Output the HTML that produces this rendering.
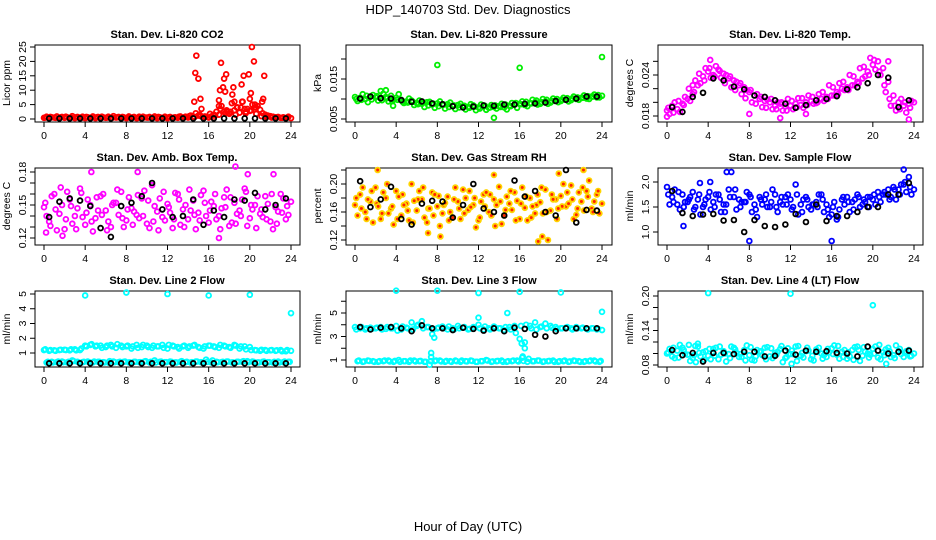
<!DOCTYPE html>
<html><head><meta charset="utf-8"><style>
html,body{margin:0;padding:0;background:#fff;}
svg{display:block;font-family:"Liberation Sans",Arial,sans-serif;}
.t{font-size:11px;font-weight:bold;text-anchor:middle;}
.yl{font-size:10.5px;text-anchor:middle;}
.tk{font-size:10.5px;text-anchor:middle;}
</style></head><body>
<svg id="chart" width="936" height="540" viewBox="0 0 936 540">
<rect width="936" height="540" fill="#fff"/>
<text x="468" y="14" font-size="13" text-anchor="middle">HDP_140703  Std. Dev. Diagnostics</text>
<text x="468" y="531" font-size="13" text-anchor="middle">Hour of Day (UTC)</text>
<text class="t" x="167" y="38">Stan. Dev. Li-820 CO2</text>
<text class="t" x="479" y="38">Stan. Dev. Li-820 Pressure</text>
<text class="t" x="790" y="38">Stan. Dev. Li-820 Temp.</text>
<text class="t" x="167" y="161">Stan. Dev. Amb. Box Temp.</text>
<text class="t" x="479" y="161">Stan. Dev. Gas Stream RH</text>
<text class="t" x="790" y="161">Stan. Dev. Sample Flow</text>
<text class="t" x="167" y="284">Stan. Dev. Line 2 Flow</text>
<text class="t" x="479" y="284">Stan. Dev. Line 3 Flow</text>
<text class="t" x="790" y="284">Stan. Dev. Line 4 (LT) Flow</text>
<text class="yl" transform="translate(10,83) rotate(-90)">Licor ppm</text>
<text class="yl" transform="translate(321,83) rotate(-90)">kPa</text>
<text class="yl" transform="translate(633,83) rotate(-90)">degrees C</text>
<text class="yl" transform="translate(10,206) rotate(-90)">degrees C</text>
<text class="yl" transform="translate(321,206) rotate(-90)">percent</text>
<text class="yl" transform="translate(633,206) rotate(-90)">ml/min</text>
<text class="yl" transform="translate(10,329) rotate(-90)">ml/min</text>
<text class="yl" transform="translate(321,329) rotate(-90)">ml/min</text>
<text class="yl" transform="translate(633,329) rotate(-90)">ml/min</text>
</svg>
<script>
const xTicks=[0,4,8,12,16,20,24];
// Panel 1 CO2
const p1A=[0.4,0.3,0.5,0.3,0.4,0.3,0.3,0.5,0.3,0.4,0.3,0.3,0.4,0.3,0.5,0.3,0.3,0.4,0.3,0.3,0.5,0.3,0.3,0.4,0.3,0.3,0.4,0.3,0.5,0.8,1.2,0.6,0.5,0.4,1.5,2.5,1.8,3.0,2.2,3.5,2.8,4.0,3.2,1.5,1.0,0.6,0.4,0.3,0.3];
const p1B=[0.8,0.6,0.9,0.7,0.6,1.0,0.7,0.8,0.6,0.9,0.7,0.6,0.8,1.0,0.7,0.6,0.9,0.7,0.8,0.6,0.7,0.9,0.6,0.8,0.7,0.6,0.9,0.8,1.2,2.0,1.0,0.8,0.9,2.5,4.5,3.0,5.5,4.0,6.0,3.5,5.0,4.5,2.0,1.2,0.8,0.7,0.6,0.8];
const p1C=[0.5,0.7,0.4,0.6,0.8,0.5,0.6,0.4,0.7,0.5,0.6,0.8,0.5,0.4,0.6,0.7,0.5,0.6,0.4,0.8,0.5,0.6,0.7,0.4,0.6,0.5,0.8,0.6,1.0,0.7,1.5,0.9,1.8,1.2,3.5,2.0,2.5,1.5,4.0,2.5,3.0,1.8,1.0,0.7,0.5,0.6,0.4,0.5];
const p1D=[];
const p1K=[0.2,0.2,0.2,0.2,0.2,0.2,0.2,0.2,0.2,0.2,0.2,0.2,0.2,0.2,0.2,0.2,0.2,0.2,0.2,0.2,0.2,0.2,0.2,0.2];
const p1OX=[14.6,14.7,14.8,15,15.2,15.3,17.1,17.2,17.4,17.5,17.7,17,17,17.6,18.3,18.4,18.5,18.8,19.2,19.4,19.3,19.9,20,20.2,20.4,20.1,20.5,20.6,21.4,21.3,21.2,19.6,18,16.5,17.8,21.6];
const p1OY=[6,16,22,14,7,3.5,10,19.5,11,14,15.5,4.5,6.5,9.5,8.5,11,6,4,12,15,6,15.5,7,25,20,9,5,4,15,7,6,2,2,1.5,2.5,1];
const p1Ticks=[0,5,10,15,20,25];const p1Labels=['0','5','10','15','20','25'];
// Panel 2 Pressure
const p2A=[0.0105,0.0103,0.0100,0.0106,0.0104,0.0101,0.0105,0.0108,0.0103,0.0098,0.0094,0.0096,0.0090,0.0088,0.0092,0.0086,0.0089,0.0085,0.0087,0.0083,0.0085,0.0082,0.0080,0.0084,0.0079,0.0081,0.0078,0.0080,0.0082,0.0079,0.0083,0.0086,0.0088,0.0085,0.0090,0.0092,0.0088,0.0094,0.0091,0.0096,0.0095,0.0098,0.0097,0.0100,0.0103,0.0101,0.0106,0.0104,0.0108];
const p2B=[0.0095,0.0112,0.0092,0.0110,0.0096,0.0113,0.0094,0.0099,0.0112,0.0090,0.0101,0.0085,0.0096,0.0080,0.0093,0.0078,0.0094,0.0076,0.0091,0.0075,0.0088,0.0074,0.0087,0.0072,0.0086,0.0073,0.0085,0.0076,0.0088,0.0074,0.0090,0.0078,0.0094,0.0082,0.0098,0.0086,0.0100,0.0088,0.0101,0.0092,0.0103,0.0094,0.0106,0.0098,0.0109,0.0100,0.0111,0.0104];
const p2C=[0.0100,0.0098,0.0108,0.0099,0.0107,0.0097,0.0102,0.0095,0.0098,0.0093,0.0091,0.0093,0.0087,0.0091,0.0084,0.0088,0.0082,0.0086,0.0080,0.0084,0.0079,0.0083,0.0078,0.0081,0.0076,0.0083,0.0079,0.0084,0.0080,0.0086,0.0082,0.0090,0.0087,0.0093,0.0089,0.0096,0.0092,0.0098,0.0095,0.0100,0.0098,0.0102,0.0101,0.0104,0.0103,0.0107,0.0106,0.0110];
const p2D=[];
const p2K=[0.0101,0.0106,0.0102,0.0101,0.0097,0.0093,0.0094,0.0089,0.0087,0.0082,0.0079,0.0081,0.0084,0.0083,0.0086,0.0086,0.0088,0.0089,0.0091,0.0095,0.0098,0.0101,0.0106,0.0106];
const p2OX=[2.5,3,3.7,8,13.5,16,24];
const p2OY=[0.0120,0.0122,0.0083,0.0185,0.0053,0.0178,0.0205];
const p2Ticks=[0.005,0.010,0.015,0.020];const p2Labels=['0.005','','0.015',''];
// Panel 3 Temp
const p3A=[0.0188,0.0195,0.0190,0.0198,0.0205,0.0212,0.0225,0.0238,0.0245,0.0240,0.0248,0.0242,0.0235,0.0232,0.0225,0.0222,0.0215,0.0210,0.0205,0.0202,0.0200,0.0195,0.0198,0.0194,0.0195,0.0198,0.0196,0.0200,0.0202,0.0199,0.0205,0.0208,0.0210,0.0215,0.0220,0.0222,0.0225,0.0230,0.0235,0.0245,0.0255,0.0260,0.0250,0.0230,0.0210,0.0200,0.0195,0.0198,0.0200];
const p3B=[0.0183,0.0200,0.0186,0.0208,0.0202,0.0232,0.0228,0.0250,0.0236,0.0253,0.0236,0.0240,0.0222,0.0230,0.0212,0.0218,0.0200,0.0212,0.0193,0.0204,0.0190,0.0200,0.0188,0.0205,0.0190,0.0206,0.0192,0.0210,0.0198,0.0212,0.0202,0.0225,0.0210,0.0228,0.0218,0.0240,0.0225,0.0250,0.0238,0.0265,0.0248,0.0240,0.0215,0.0195,0.0188,0.0205,0.0185,0.0202];
const p3C=[0.0192,0.0185,0.0202,0.0196,0.0220,0.0215,0.0242,0.0232,0.0250,0.0238,0.0246,0.0228,0.0238,0.0218,0.0228,0.0206,0.0218,0.0198,0.0208,0.0192,0.0205,0.0190,0.0200,0.0188,0.0202,0.0193,0.0206,0.0196,0.0208,0.0200,0.0215,0.0205,0.0222,0.0212,0.0230,0.0218,0.0238,0.0228,0.0252,0.0240,0.0262,0.0245,0.0225,0.0205,0.0195,0.0190,0.0200,0.0192];
const p3D=[];
const p3K=[0.0193,0.0186,0.0208,0.0214,0.0235,0.0232,0.0223,0.0219,0.0210,0.0208,0.0203,0.0198,0.0192,0.0196,0.0203,0.0205,0.0209,0.0219,0.0222,0.0228,0.0240,0.0236,0.0193,0.0203];
const p3OX=[4.2,2.5,11,8,21.5,23.5,0,13.5];
const p3OY=[0.0262,0.0225,0.0177,0.0183,0.0260,0.0175,0.0179,0.0183];
const p3Ticks=[0.018,0.020,0.022,0.024,0.026];const p3Labels=['0.018','','','0.024',''];
// Panel 4 Amb box
const p4A=[0.148,0.135,0.160,0.142,0.128,0.155,0.140,0.165,0.132,0.150,0.138,0.158,0.145,0.130,0.152,0.162,0.136,0.147,0.141,0.156,0.133,0.168,0.144,0.139,0.151,0.129,0.160,0.146,0.137,0.154,0.143,0.163,0.134,0.149,0.140,0.157,0.131,0.152,0.145,0.165,0.138,0.150,0.142,0.158,0.135,0.148,0.160,0.137,0.153];
const p4B=[0.140,0.158,0.127,0.150,0.162,0.133,0.147,0.139,0.155,0.126,0.145,0.160,0.135,0.152,0.141,0.130,0.157,0.144,0.138,0.163,0.129,0.149,0.156,0.136,0.143,0.161,0.132,0.150,0.145,0.128,0.159,0.140,0.153,0.137,0.147,0.164,0.134,0.142,0.155,0.131,0.146,0.158,0.139,0.151,0.128,0.144,0.156,0.141];
const p4C=[0.152,0.131,0.146,0.166,0.137,0.149,0.128,0.161,0.143,0.135,0.157,0.141,0.127,0.150,0.164,0.138,0.146,0.132,0.159,0.140,0.154,0.135,0.127,0.162,0.148,0.137,0.155,0.130,0.164,0.141,0.136,0.152,0.145,0.160,0.128,0.148,0.157,0.133,0.140,0.162,0.150,0.129,0.146,0.137,0.160,0.133,0.143,0.149];
const p4D=[];
const p4K=[0.139,0.153,0.156,0.154,0.149,0.129,0.121,0.149,0.152,0.158,0.170,0.146,0.139,0.140,0.155,0.132,0.145,0.139,0.155,0.154,0.161,0.146,0.150,0.156];
const p4OX=[4.6,9.1,18.6,19.8,22.3,17,0.2,1.8];
const p4OY=[0.180,0.180,0.185,0.178,0.178,0.120,0.125,0.122];
const p4Ticks=[0.12,0.13,0.14,0.15,0.16,0.17,0.18];const p4Labels=['0.12','','','0.15','','','0.18'];
// Panel 5 RH
const p5A=[0.170,0.185,0.160,0.175,0.195,0.150,0.180,0.165,0.190,0.155,0.172,0.200,0.162,0.178,0.145,0.188,0.168,0.158,0.182,0.152,0.175,0.192,0.163,0.170,0.148,0.185,0.160,0.178,0.196,0.155,0.172,0.188,0.150,0.166,0.180,0.158,0.174,0.192,0.162,0.178,0.183,0.168,0.198,0.156,0.175,0.190,0.165,0.185,0.172];
const p5B=[0.155,0.195,0.178,0.145,0.168,0.188,0.158,0.142,0.182,0.170,0.148,0.176,0.190,0.152,0.165,0.185,0.140,0.173,0.160,0.195,0.150,0.180,0.167,0.138,0.175,0.188,0.155,0.170,0.143,0.182,0.163,0.176,0.195,0.148,0.168,0.185,0.158,0.120,0.178,0.165,0.200,0.172,0.150,0.188,0.162,0.205,0.175,0.158];
const p5C=[0.180,0.165,0.150,0.190,0.172,0.158,0.200,0.168,0.150,0.185,0.162,0.145,0.178,0.195,0.165,0.155,0.183,0.170,0.148,0.178,0.165,0.158,0.190,0.180,0.152,0.168,0.185,0.140,0.175,0.163,0.190,0.148,0.172,0.182,0.152,0.170,0.195,0.160,0.185,0.150,0.168,0.188,0.178,0.165,0.195,0.182,0.160,0.190];
const p5D=[];
const p5K=[0.204,0.167,0.178,0.196,0.150,0.142,0.172,0.176,0.175,0.152,0.170,0.200,0.165,0.160,0.155,0.205,0.182,0.190,0.160,0.155,0.220,0.145,0.163,0.162];
const p5OX=[2.2,7.1,8.3,17.8,18.2,19.8,22.2,13.5];
const p5OY=[0.220,0.130,0.125,0.118,0.125,0.215,0.220,0.213];
const p5Ticks=[0.12,0.14,0.16,0.18,0.20,0.22];const p5Labels=['0.12','','0.16','','0.20',''];
// Panel 6 Sample flow
const p6A=[1.90,1.70,1.55,1.75,1.60,1.80,1.65,1.50,1.70,1.60,1.75,1.55,1.85,1.70,1.65,1.60,1.75,1.55,1.70,1.65,1.50,1.75,1.60,1.70,1.65,1.95,1.55,1.70,1.45,1.60,1.75,1.55,1.35,1.25,1.65,1.70,1.60,1.75,1.55,1.70,1.65,1.80,1.75,1.85,1.90,1.85,1.95,2.10,1.85];
const p6B=[1.55,1.85,1.45,1.60,1.70,1.50,1.35,1.65,1.45,1.75,1.40,1.55,2.20,1.45,1.60,1.80,1.40,1.30,1.55,1.50,1.85,1.40,1.55,1.75,1.50,1.35,1.65,1.50,1.55,1.75,1.40,1.30,1.60,1.45,1.55,1.40,1.65,1.50,1.60,1.70,1.55,1.60,1.75,1.70,1.65,1.95,1.80,1.75];
const p6C=[1.75,1.60,1.80,1.50,1.65,1.45,1.75,1.55,1.80,1.50,1.65,1.40,1.70,1.85,1.50,1.60,1.70,1.45,1.65,1.75,1.60,1.50,1.70,1.55,1.45,1.75,1.40,1.65,1.55,1.50,1.65,1.45,1.50,1.30,1.70,1.60,1.45,1.70,1.65,1.50,1.75,1.70,1.80,1.65,1.85,1.75,2.00,1.90];
const p6D=[];
const p6K=[1.82,1.38,1.32,1.35,1.36,1.23,1.24,1.00,1.24,1.12,1.10,1.15,1.36,1.20,1.55,1.22,1.32,1.32,1.40,1.50,1.50,1.75,1.75,1.98];
const p6OX=[5.8,8,16,3.2,4.2,1.6,23];
const p6OY=[2.2,0.82,0.82,1.98,2.0,1.12,2.25];
const p6Ticks=[1.0,1.5,2.0];const p6Labels=['1.0','1.5','2.0'];
// Panel 7 Line 2
const p7A=[1.2,1.15,1.18,1.2,1.22,1.18,1.25,1.2,1.5,1.55,1.45,1.5,1.4,1.55,1.35,1.5,1.45,1.3,1.55,1.4,1.5,1.35,1.45,1.55,1.3,1.5,1.4,1.45,1.35,1.5,1.4,1.3,1.5,1.45,1.35,1.5,1.4,1.55,1.3,1.45,1.4,1.2,1.15,1.2,1.18,1.15,1.2,1.12,1.15];
const p7B=[0.35,0.4,0.38,0.42,0.36,0.5,0.4,0.38,0.42,0.36,0.4,0.38,0.35,0.42,0.38,0.4,0.36,0.4,0.38,0.42,0.36,0.5,0.4,0.38,0.42,0.36,0.4,0.38,0.35,0.42,0.38,0.55,0.36,0.4,0.38,0.42,0.36,0.4,0.4,0.45,0.42,0.36,0.4,0.38,0.35,0.42,0.38,0.4];
const p7C=[1.25,1.2,1.15,1.22,1.2,1.25,1.18,1.3,1.45,1.6,1.5,1.35,1.5,1.45,1.6,1.4,1.5,1.45,1.35,1.55,1.4,1.5,1.45,1.35,1.55,1.45,1.3,1.5,1.45,1.55,1.35,1.45,1.5,1.4,1.55,1.45,1.35,1.5,1.45,1.25,1.2,1.18,1.22,1.15,1.2,1.18,1.12,1.2];
const p7D=[0.4,0.36,0.42,0.38,0.4,0.45,0.36,0.4,0.38,0.42,0.4,0.36,0.45,0.38,0.4,0.42,0.36,0.4,0.38,0.45,0.4,0.36,0.42,0.38,0.4,0.36,0.45,0.4,0.38,0.42,0.36,0.4,0.5,0.38,0.4,0.42,0.36,0.4,0.45,0.38,0.4,0.36,0.42,0.38,0.4,0.36,0.42,0.4];
const p7K=[0.3,0.3,0.3,0.3,0.3,0.3,0.3,0.3,0.3,0.3,0.3,0.3,0.3,0.3,0.3,0.3,0.3,0.3,0.3,0.3,0.3,0.3,0.3,0.3];
const p7OX=[4,8,12,16,20,24];
const p7OY=[4.9,5.1,5.0,4.9,4.95,3.7];
const p7Ticks=[1,2,3,4,5];const p7Labels=['1','2','3','4','5'];
// Panel 8 Line 3
const p8A=[3.8,3.7,3.6,3.75,3.7,3.8,3.65,3.7,3.9,3.6,3.75,4.2,3.9,4.3,3.8,3.2,3.7,3.85,3.6,3.7,3.9,3.75,3.6,3.8,4.0,3.6,3.7,3.85,3.7,3.55,3.8,3.9,2.8,2.5,3.9,4.2,3.8,4.1,3.9,3.8,3.7,3.75,3.7,3.8,3.7,3.65,3.7,3.6,3.55];
const p8B=[0.9,0.85,0.95,0.9,0.85,0.9,0.95,0.85,1.0,0.9,0.85,0.95,0.9,0.85,0.6,0.9,0.95,0.85,0.9,0.95,0.85,0.9,0.95,0.85,0.9,1.0,0.85,0.9,0.95,0.85,0.9,0.95,1.2,0.85,0.9,0.95,0.85,0.9,0.95,0.85,0.9,0.85,0.95,0.9,0.85,0.9,0.95,0.85];
const p8C=[3.6,3.8,3.7,3.65,3.75,3.6,3.8,3.7,3.5,3.85,3.7,3.6,4.0,3.7,3.8,3.6,3.75,3.7,3.85,3.6,3.7,3.8,3.65,3.75,3.7,3.85,3.6,3.75,3.7,3.8,3.6,3.3,3.9,4.0,3.7,3.6,3.85,3.7,3.75,3.65,3.7,3.8,3.6,3.7,3.75,3.6,3.7,3.65];
const p8D=[0.95,0.88,0.92,0.85,0.9,0.95,0.88,0.92,0.85,0.9,0.95,0.88,0.92,0.85,0.9,0.95,0.88,0.92,0.85,0.9,0.95,0.88,0.92,0.85,0.9,0.95,0.88,0.92,0.85,0.9,0.95,0.88,0.92,1.1,0.9,0.95,0.88,0.92,0.85,0.9,0.95,0.88,0.92,0.85,0.9,0.95,0.88,0.92];
const p8K=[3.8,3.6,3.75,3.8,3.7,3.45,3.95,3.7,3.7,3.55,3.75,3.65,3.5,3.7,3.45,3.75,3.65,3.15,3.0,3.45,3.7,3.7,3.7,3.7];
const p8OX=[4,8,12,16,20,24,12,14.8,7.4,7.7,16.2,16.5,16.3,7.4];
const p8OY=[6.9,6.9,6.7,6.8,6.75,5.1,4.6,5.0,1.6,2.9,2.4,2.0,1.3,1.25];
const p8Ticks=[1,2,3,4,5,6];const p8Labels=['1','','3','','5',''];
// Panel 9 Line 4
const p9A=[0.100,0.095,0.105,0.110,0.098,0.092,0.112,0.102,0.096,0.108,0.090,0.104,0.099,0.110,0.094,0.106,0.097,0.088,0.103,0.110,0.095,0.101,0.108,0.092,0.099,0.112,0.096,0.104,0.090,0.107,0.100,0.094,0.109,0.098,0.103,0.091,0.106,0.112,0.096,0.100,0.108,0.093,0.102,0.110,0.097,0.104,0.094,0.106,0.100];
const p9B=[0.108,0.092,0.115,0.099,0.087,0.113,0.095,0.104,0.090,0.110,0.098,0.086,0.112,0.101,0.094,0.114,0.089,0.106,0.097,0.111,0.092,0.103,0.085,0.109,0.099,0.113,0.093,0.105,0.088,0.110,0.097,0.102,0.114,0.091,0.106,0.095,0.111,0.087,0.103,0.098,0.112,0.090,0.107,0.094,0.114,0.099,0.104,0.096];
const p9C=[0.102,0.110,0.093,0.106,0.115,0.097,0.101,0.089,0.108,0.096,0.112,0.100,0.092,0.107,0.099,0.088,0.111,0.095,0.104,0.090,0.109,0.098,0.113,0.094,0.105,0.087,0.101,0.110,0.096,0.103,0.091,0.108,0.099,0.113,0.094,0.102,0.089,0.106,0.111,0.093,0.100,0.115,0.097,0.104,0.092,0.108,0.101,0.095];
const p9D=[];
const p9K=[0.106,0.097,0.101,0.086,0.101,0.101,0.099,0.103,0.103,0.095,0.096,0.105,0.098,0.105,0.103,0.104,0.101,0.100,0.095,0.112,0.105,0.100,0.103,0.105];
const p9OX=[4,12,20,3,2.8,12.1,21.3];
const p9OY=[0.205,0.204,0.184,0.117,0.085,0.082,0.082];
const p9Ticks=[0.08,0.10,0.12,0.14,0.16,0.18,0.20];const p9Labels=['0.08','','','0.14','','','0.20'];

const NS='http://www.w3.org/2000/svg';
const svg=document.getElementById('chart');
function mk(tag,attrs,parent){const e=document.createElementNS(NS,tag);for(const k in attrs)e.setAttribute(k,attrs[k]);(parent||svg).appendChild(e);return e;}
const cols=[[35,300],[346,612],[658,923]];
const rows=[[45,122],[168,245],[291,367]];
const panels=[
 {n:'co2',c:0,r:0,col:'#ff0000',A:p1A,B:p1B,C:p1C,D:p1D,K:p1K,OX:p1OX,OY:p1OY,T:p1Ticks,L:p1Labels,v1:0,y1:119,v2:25,y2:47},
 {n:'pressure',c:1,r:0,col:'#00ee00',A:p2A,B:p2B,C:p2C,D:p2D,K:p2K,OX:p2OX,OY:p2OY,T:p2Ticks,L:p2Labels,v1:0.005,y1:119,v2:0.015,y2:79},
 {n:'temp',c:2,r:0,col:'#ff00ff',A:p3A,B:p3B,C:p3C,D:p3D,K:p3K,OX:p3OX,OY:p3OY,T:p3Ticks,L:p3Labels,v1:0.018,y1:116,v2:0.024,y2:75},
 {n:'amb-box',c:0,r:1,col:'#ff00ff',A:p4A,B:p4B,C:p4C,D:p4D,K:p4K,OX:p4OX,OY:p4OY,T:p4Ticks,L:p4Labels,v1:0.12,y1:238,v2:0.18,y2:172},
 {n:'rh',c:1,r:1,col:'#ffd400',fill:'#ff2200',A:p5A,B:p5B,C:p5C,D:p5D,K:p5K,OX:p5OX,OY:p5OY,T:p5Ticks,L:p5Labels,v1:0.12,y1:240,v2:0.20,y2:184},
 {n:'sample-flow',c:2,r:1,col:'#0000ff',A:p6A,B:p6B,C:p6C,D:p6D,K:p6K,OX:p6OX,OY:p6OY,T:p6Ticks,L:p6Labels,v1:1,y1:232,v2:2,y2:182},
 {n:'line2',c:0,r:2,col:'#00ffff',A:p7A,B:p7B,C:p7C,D:p7D,K:p7K,OX:p7OX,OY:p7OY,T:p7Ticks,L:p7Labels,v1:1,y1:353,v2:5,y2:294},
 {n:'line3',c:1,r:2,col:'#00ffff',A:p8A,B:p8B,C:p8C,D:p8D,K:p8K,OX:p8OX,OY:p8OY,T:p8Ticks,L:p8Labels,v1:1,y1:360,v2:5,y2:313},
 {n:'line4',c:2,r:2,col:'#00ffff',A:p9A,B:p9B,C:p9C,D:p9D,K:p9K,OX:p9OX,OY:p9OY,T:p9Ticks,L:p9Labels,v1:0.08,y1:365,v2:0.20,y2:296}
];
panels.forEach(p=>{
 const [L,R]=cols[p.c],[T,B]=rows[p.r];
 const g=mk('g',{});
 
 
 const xs=h=>L+9+h*(247/24);
 const ys=v=>p.y1+(v-p.v1)*(p.y2-p.y1)/(p.v2-p.v1);
 const box=mk('rect',{x:L,y:T,width:R-L,height:B-T,fill:'none',stroke:'#000','stroke-width':1},g);
 
 
 xTicks.forEach(h=>{
  mk('line',{x1:xs(h),x2:xs(h),y1:B,y2:B+5,stroke:'#000'},g);
  const t=mk('text',{x:xs(h),y:B+17,class:'tk'},g);t.textContent=String(h);
  
  
 });
 p.T.forEach((v,i)=>{
  const y=ys(v);
  mk('line',{x1:L-5,x2:L,y1:y,y2:y,stroke:'#000'},g);
  if(p.L[i]){const t=mk('text',{class:'tk',transform:'translate('+(L-9)+','+y+') rotate(-90)'},g);t.textContent=p.L[i];
   
   }
 });
 const pts=mk('g',{},g);
 function pt(h,v,color,fill){
  const y=ys(v); if(y<T-3||y>B+3) return;
  const c=mk('circle',{cx:xs(h),cy:y,r:2.4,fill:fill||'none',stroke:color,'stroke-width':1.8},pts);
  
  
 }
 p.A.forEach((v,i)=>pt(i*0.5,v,p.col,p.fill));
 p.C.forEach((v,i)=>pt(i*0.5+0.125,v,p.col,p.fill));
 p.B.forEach((v,i)=>pt(i*0.5+0.25,v,p.col,p.fill));
 p.D.forEach((v,i)=>pt(i*0.5+0.375,v,p.col,p.fill));
 p.OX.forEach((h,i)=>pt(h,p.OY[i],p.col,p.fill));
 p.K.forEach((v,i)=>pt(i+0.5,v,'#000'));
});
</script>
</body></html>
